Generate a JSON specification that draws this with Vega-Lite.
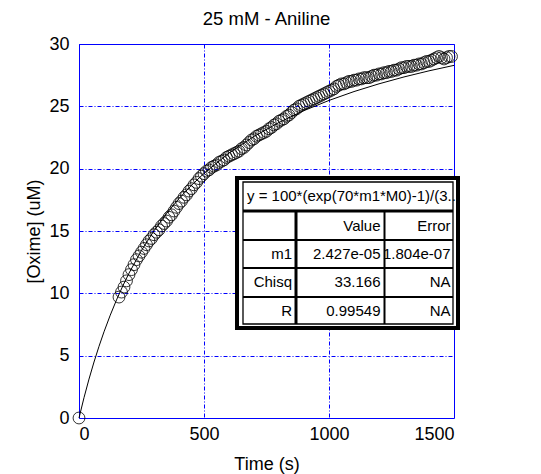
{
  "$schema": "https://vega.github.io/schema/vega-lite/v6.json",
  "width": 375,
  "height": 374,
  "autosize": {"type": "none"},
  "padding": {"left": 79, "top": 44, "right": 87, "bottom": 56},
  "background": "white",
  "title": {"text": "25 mM - Aniline", "font": "Liberation Sans", "fontSize": 18.5, "fontWeight": "normal", "color": "black", "offset": 7},
  "config": {
    "view": {"stroke": "#0000ff", "strokeWidth": 1},
    "axis": {
      "domain": false, "ticks": false,
      "labelFont": "Liberation Sans", "labelFontSize": 18, "labelColor": "black",
      "titleFont": "Liberation Sans", "titleFontSize": 18, "titleFontWeight": "normal", "titleColor": "black",
      "gridColor": "#0000ff", "gridDash": [4, 2, 1, 2], "gridWidth": 1, "gridOpacity": 1
    }
  },
  "datasets": {
    "fit": [
      {"t": 0, "y": 0}, {"t": 20, "y": 1.631}, {"t": 40, "y": 3.123}, {"t": 60, "y": 4.491}, {"t": 80, "y": 5.75},
      {"t": 100, "y": 6.914}, {"t": 125, "y": 8.25}, {"t": 150, "y": 9.47}, {"t": 175, "y": 10.588}, {"t": 200, "y": 11.616},
      {"t": 250, "y": 13.444}, {"t": 300, "y": 15.021}, {"t": 350, "y": 16.394}, {"t": 400, "y": 17.6}, {"t": 450, "y": 18.669},
      {"t": 500, "y": 19.622}, {"t": 600, "y": 21.249}, {"t": 700, "y": 22.587}, {"t": 800, "y": 23.706}, {"t": 900, "y": 24.657},
      {"t": 1000, "y": 25.474}, {"t": 1100, "y": 26.184}, {"t": 1200, "y": 26.806}, {"t": 1300, "y": 27.357}, {"t": 1400, "y": 27.847},
      {"t": 1500, "y": 28.286}
    ],
    "obs": [
      {"t": 0, "y": 0},
      {"t": 160, "y": 9.7}, {"t": 170, "y": 10.1}, {"t": 180, "y": 10.5}, {"t": 190, "y": 11.0}, {"t": 200, "y": 11.5},
      {"t": 210, "y": 11.9}, {"t": 220, "y": 12.3}, {"t": 230, "y": 12.7}, {"t": 240, "y": 13.0}, {"t": 250, "y": 13.3},
      {"t": 260, "y": 13.6}, {"t": 270, "y": 13.9}, {"t": 280, "y": 14.2}, {"t": 290, "y": 14.4}, {"t": 300, "y": 14.7},
      {"t": 310, "y": 14.9}, {"t": 320, "y": 15.1}, {"t": 330, "y": 15.4}, {"t": 340, "y": 15.6}, {"t": 350, "y": 15.8},
      {"t": 360, "y": 16.1}, {"t": 370, "y": 16.3}, {"t": 380, "y": 16.6}, {"t": 390, "y": 16.9}, {"t": 400, "y": 17.2},
      {"t": 410, "y": 17.4}, {"t": 420, "y": 17.7}, {"t": 430, "y": 17.9}, {"t": 440, "y": 18.2}, {"t": 450, "y": 18.4},
      {"t": 460, "y": 18.7}, {"t": 470, "y": 18.9}, {"t": 480, "y": 19.2}, {"t": 490, "y": 19.4}, {"t": 500, "y": 19.6},
      {"t": 510, "y": 19.8}, {"t": 520, "y": 19.9}, {"t": 530, "y": 20.1}, {"t": 540, "y": 20.2}, {"t": 550, "y": 20.3},
      {"t": 560, "y": 20.5}, {"t": 570, "y": 20.6}, {"t": 580, "y": 20.7}, {"t": 590, "y": 20.9}, {"t": 600, "y": 21.0},
      {"t": 610, "y": 21.1}, {"t": 620, "y": 21.2}, {"t": 630, "y": 21.3}, {"t": 640, "y": 21.4}, {"t": 650, "y": 21.6},
      {"t": 660, "y": 21.7}, {"t": 670, "y": 21.9}, {"t": 680, "y": 22.1}, {"t": 690, "y": 22.3}, {"t": 700, "y": 22.4},
      {"t": 710, "y": 22.6}, {"t": 720, "y": 22.7}, {"t": 730, "y": 22.8}, {"t": 740, "y": 22.9}, {"t": 750, "y": 23.0},
      {"t": 760, "y": 23.2}, {"t": 770, "y": 23.3}, {"t": 780, "y": 23.5}, {"t": 790, "y": 23.6}, {"t": 800, "y": 23.8},
      {"t": 810, "y": 23.9}, {"t": 820, "y": 24.0}, {"t": 830, "y": 24.2}, {"t": 840, "y": 24.3}, {"t": 850, "y": 24.5},
      {"t": 860, "y": 24.7}, {"t": 870, "y": 24.8}, {"t": 880, "y": 25.0}, {"t": 890, "y": 25.1}, {"t": 900, "y": 25.2},
      {"t": 910, "y": 25.3}, {"t": 920, "y": 25.4}, {"t": 930, "y": 25.5}, {"t": 940, "y": 25.6}, {"t": 950, "y": 25.7},
      {"t": 960, "y": 25.8}, {"t": 970, "y": 25.9}, {"t": 980, "y": 26.0}, {"t": 990, "y": 26.1}, {"t": 1000, "y": 26.2},
      {"t": 1010, "y": 26.3}, {"t": 1020, "y": 26.4}, {"t": 1030, "y": 26.6}, {"t": 1040, "y": 26.7}, {"t": 1050, "y": 26.8},
      {"t": 1060, "y": 26.8}, {"t": 1070, "y": 26.9}, {"t": 1080, "y": 27.0}, {"t": 1090, "y": 27.0}, {"t": 1100, "y": 27.1},
      {"t": 1110, "y": 27.1}, {"t": 1120, "y": 27.2}, {"t": 1130, "y": 27.2}, {"t": 1140, "y": 27.3}, {"t": 1150, "y": 27.3},
      {"t": 1160, "y": 27.3}, {"t": 1170, "y": 27.4}, {"t": 1180, "y": 27.5}, {"t": 1190, "y": 27.5}, {"t": 1200, "y": 27.6},
      {"t": 1210, "y": 27.6}, {"t": 1220, "y": 27.7}, {"t": 1230, "y": 27.7}, {"t": 1240, "y": 27.8}, {"t": 1250, "y": 27.8},
      {"t": 1260, "y": 27.9}, {"t": 1270, "y": 27.9}, {"t": 1280, "y": 28.0}, {"t": 1290, "y": 28.1}, {"t": 1300, "y": 28.1},
      {"t": 1310, "y": 28.2}, {"t": 1320, "y": 28.2}, {"t": 1330, "y": 28.2}, {"t": 1340, "y": 28.3}, {"t": 1350, "y": 28.3},
      {"t": 1360, "y": 28.4}, {"t": 1370, "y": 28.4}, {"t": 1380, "y": 28.5}, {"t": 1390, "y": 28.6}, {"t": 1400, "y": 28.6},
      {"t": 1410, "y": 28.7}, {"t": 1420, "y": 28.8}, {"t": 1430, "y": 28.9}, {"t": 1440, "y": 29.0}, {"t": 1450, "y": 28.9},
      {"t": 1460, "y": 28.8}, {"t": 1470, "y": 28.9}, {"t": 1480, "y": 29.0}, {"t": 1490, "y": 29.0}
    ],
    "table": [
      {"label": "m1", "value": "2.427e-05", "error": "1.804e-07"},
      {"label": "Chisq", "value": "33.166", "error": "NA"},
      {"label": "R", "value": "0.99549", "error": "NA"}
    ],
    "one": [{"equation": "y = 100*(exp(70*m1*M0)-1)/(3...", "h1": "Value", "h2": "Error"}]
  },
  "layer": [
    {
      "data": {"name": "fit"},
      "mark": {"type": "line", "color": "black", "strokeWidth": 1},
      "encoding": {
        "x": {"field": "t", "type": "quantitative", "scale": {"domain": [0, 1500], "nice": false},
              "axis": {"title": "Time (s)", "values": [0, 500, 1000, 1500], "format": "d", "labelPadding": 7, "titlePadding": 12}},
        "y": {"field": "y", "type": "quantitative", "scale": {"domain": [0, 30], "nice": false},
              "axis": {"title": "[Oxime] (uM)", "values": [0, 5, 10, 15, 20, 25, 30], "format": "d", "labelPadding": 10, "titlePadding": 5}}
      }
    },
    {
      "data": {"name": "obs"},
      "mark": {"type": "point", "shape": "circle", "filled": false, "stroke": "black", "strokeWidth": 0.8, "size": 140, "opacity": 1},
      "encoding": {
        "x": {"field": "t", "type": "quantitative"},
        "y": {"field": "y", "type": "quantitative"}
      }
    },
    {
      "data": {"name": "one"},
      "mark": {"type": "rect", "fill": "white", "stroke": "black", "strokeWidth": 4},
      "encoding": {"x": {"datum": 632}, "x2": {"datum": 1516}, "y": {"datum": 7.22}, "y2": {"datum": 19.25}}
    },
    {
      "data": {"name": "one"},
      "mark": {"type": "rect", "fill": null, "fillOpacity": 0, "stroke": "black", "strokeWidth": 1.3},
      "encoding": {"x": {"datum": 656}, "x2": {"datum": 1496}, "y": {"datum": 7.54}, "y2": {"datum": 18.93}}
    },
    {
      "data": {"name": "one"},
      "mark": {"type": "rule", "color": "black", "strokeWidth": 3},
      "encoding": {"x": {"datum": 656}, "x2": {"datum": 1496}, "y": {"datum": 16.6}}
    },
    {
      "data": {"name": "one"},
      "mark": {"type": "rule", "color": "black", "strokeWidth": 2},
      "encoding": {"x": {"datum": 656}, "x2": {"datum": 1496}, "y": {"datum": 14.28}}
    },
    {
      "data": {"name": "one"},
      "mark": {"type": "rule", "color": "black", "strokeWidth": 2},
      "encoding": {"x": {"datum": 656}, "x2": {"datum": 1496}, "y": {"datum": 12.03}}
    },
    {
      "data": {"name": "one"},
      "mark": {"type": "rule", "color": "black", "strokeWidth": 2},
      "encoding": {"x": {"datum": 656}, "x2": {"datum": 1496}, "y": {"datum": 9.71}}
    },
    {
      "data": {"name": "one"},
      "mark": {"type": "rule", "color": "black", "strokeWidth": 3},
      "encoding": {"x": {"datum": 868}, "y": {"datum": 7.54}, "y2": {"datum": 16.6}}
    },
    {
      "data": {"name": "one"},
      "mark": {"type": "rule", "color": "black", "strokeWidth": 2},
      "encoding": {"x": {"datum": 1222}, "y": {"datum": 7.54}, "y2": {"datum": 16.6}}
    },
    {
      "data": {"name": "one"},
      "mark": {"type": "text", "font": "Liberation Sans", "fontSize": 15, "align": "left", "baseline": "middle", "color": "black"},
      "encoding": {"x": {"datum": 672}, "y": {"datum": 17.77}, "text": {"field": "equation"}}
    },
    {
      "data": {"name": "one"},
      "mark": {"type": "text", "font": "Liberation Sans", "fontSize": 15, "align": "right", "baseline": "middle", "color": "black"},
      "encoding": {"x": {"datum": 1206}, "y": {"datum": 15.44}, "text": {"field": "h1"}}
    },
    {
      "data": {"name": "one"},
      "mark": {"type": "text", "font": "Liberation Sans", "fontSize": 15, "align": "right", "baseline": "middle", "color": "black"},
      "encoding": {"x": {"datum": 1486}, "y": {"datum": 15.44}, "text": {"field": "h2"}}
    },
    {
      "data": {"name": "table"},
      "transform": [{"filter": "datum.label === 'm1'"}],
      "layer": [
        {"mark": {"type": "text", "font": "Liberation Sans", "fontSize": 15, "align": "right", "baseline": "middle", "color": "black"},
         "encoding": {"x": {"datum": 852}, "y": {"datum": 13.15}, "text": {"field": "label"}}},
        {"mark": {"type": "text", "font": "Liberation Sans", "fontSize": 15, "align": "right", "baseline": "middle", "color": "black"},
         "encoding": {"x": {"datum": 1206}, "y": {"datum": 13.15}, "text": {"field": "value"}}},
        {"mark": {"type": "text", "font": "Liberation Sans", "fontSize": 15, "align": "right", "baseline": "middle", "color": "black"},
         "encoding": {"x": {"datum": 1486}, "y": {"datum": 13.15}, "text": {"field": "error"}}}
      ]
    },
    {
      "data": {"name": "table"},
      "transform": [{"filter": "datum.label === 'Chisq'"}],
      "layer": [
        {"mark": {"type": "text", "font": "Liberation Sans", "fontSize": 15, "align": "right", "baseline": "middle", "color": "black"},
         "encoding": {"x": {"datum": 852}, "y": {"datum": 10.87}, "text": {"field": "label"}}},
        {"mark": {"type": "text", "font": "Liberation Sans", "fontSize": 15, "align": "right", "baseline": "middle", "color": "black"},
         "encoding": {"x": {"datum": 1206}, "y": {"datum": 10.87}, "text": {"field": "value"}}},
        {"mark": {"type": "text", "font": "Liberation Sans", "fontSize": 15, "align": "right", "baseline": "middle", "color": "black"},
         "encoding": {"x": {"datum": 1486}, "y": {"datum": 10.87}, "text": {"field": "error"}}}
      ]
    },
    {
      "data": {"name": "table"},
      "transform": [{"filter": "datum.label === 'R'"}],
      "layer": [
        {"mark": {"type": "text", "font": "Liberation Sans", "fontSize": 15, "align": "right", "baseline": "middle", "color": "black"},
         "encoding": {"x": {"datum": 852}, "y": {"datum": 8.62}, "text": {"field": "label"}}},
        {"mark": {"type": "text", "font": "Liberation Sans", "fontSize": 15, "align": "right", "baseline": "middle", "color": "black"},
         "encoding": {"x": {"datum": 1206}, "y": {"datum": 8.62}, "text": {"field": "value"}}},
        {"mark": {"type": "text", "font": "Liberation Sans", "fontSize": 15, "align": "right", "baseline": "middle", "color": "black"},
         "encoding": {"x": {"datum": 1486}, "y": {"datum": 8.62}, "text": {"field": "error"}}}
      ]
    }
  ]
}
